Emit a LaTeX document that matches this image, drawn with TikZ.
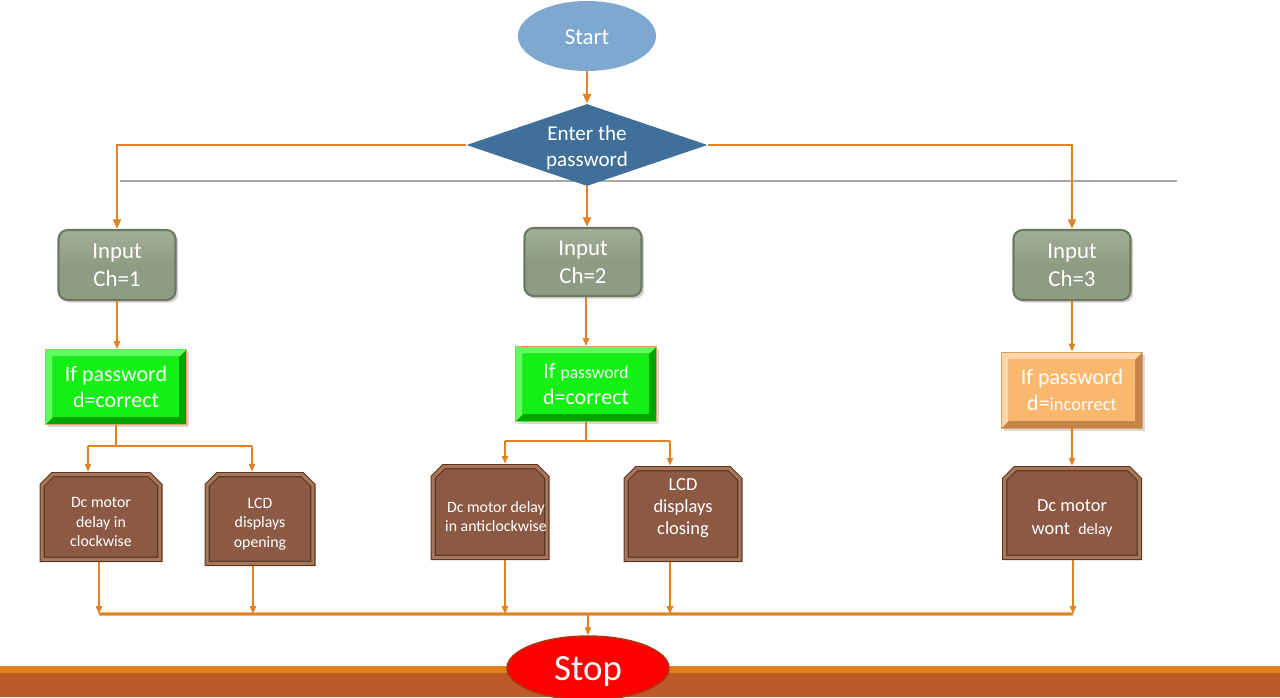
\documentclass[tikz,border=0pt]{standalone}
\usepackage{fontspec}
\setmainfont{Carlito}
\usetikzlibrary{shapes.geometric,arrows.meta,shadows}
\newdimen\upx \upx=0.02cm
\definecolor{orgc}{HTML}{DE8223}
\definecolor{startc}{HTML}{7EA8CF}
\definecolor{diac}{HTML}{40709A}
\definecolor{inpc}{HTML}{8F9C84}
\definecolor{inptop}{HTML}{A2AE97}
\definecolor{inpd}{HTML}{6C785F}
\definecolor{grnface}{HTML}{14F014}
\definecolor{grnlight}{HTML}{5CFF5C}
\definecolor{grndark}{HTML}{00A400}
\definecolor{ornface}{HTML}{F9B86E}
\definecolor{ornlight}{HTML}{FCD6A8}
\definecolor{orndark}{HTML}{C4854A}
\definecolor{edgec}{HTML}{E0A060}
\definecolor{brnface}{HTML}{8C5A44}
\definecolor{brnlight}{HTML}{A9765A}
\definecolor{brndark}{HTML}{5A3625}
\definecolor{stopc}{HTML}{FF0000}
\definecolor{stopd}{HTML}{A83A10}
\definecolor{bandor}{HTML}{E0801A}
\definecolor{bandbr}{HTML}{BC5A2A}
\definecolor{grayl}{HTML}{A6A6A6}
\tikzset{
  conn/.style={draw=orgc, line width=1.6pt, -{Triangle[length=5.5pt,width=4.5pt]}},
  thinarr/.style={draw=orgc, line width=0.85pt, -{Triangle[length=4.5pt,width=3.6pt]}},
  thinline/.style={draw=orgc, line width=0.85pt},
  bevel/.style n args={4}{fill=#3, path picture={
    \fill[#2] (path picture bounding box.north west) -- (path picture bounding box.north east)
      -- ([shift={(-#4,-#4)}]path picture bounding box.north east)
      -- ([shift={(#4,-#4)}]path picture bounding box.north west)
      -- ([shift={(#4,#4)}]path picture bounding box.south west)
      -- (path picture bounding box.south west) -- cycle;
    \fill[#1] ([shift={(#4,-#4)}]path picture bounding box.north west) rectangle ([shift={(-#4,#4)}]path picture bounding box.south east);
  }},
  inputbox/.style={rounded corners=9\upx, top color=inptop, bottom color=inpc, middle color=inpc,
    draw=inpd, line width=1.2pt,
    minimum width=117\upx, minimum height=70\upx, text=white, align=center,
    font=\fontsize{13}{16}\selectfont,
    drop shadow={shadow xshift=1.5pt,shadow yshift=-1.5pt,opacity=.35}},
  ifbox/.style={rectangle, minimum width=141\upx, minimum height=75\upx, text=white,
    align=center, font=\fontsize{12.5}{15}\selectfont, draw=edgec, line width=0.5pt,
    drop shadow={shadow xshift=1.5pt,shadow yshift=-1.5pt,opacity=.3}},
  greenbox/.style={ifbox, bevel={grnface}{grnlight}{grndark}{4pt}},
  orangebox/.style={ifbox, bevel={ornface}{ornlight}{orndark}{4pt}},
  brownbox/.style={rectangle, inner sep=0pt, path picture={
    \path[fill=brnface, draw=brndark, double=brnlight, double distance=1.8pt, line width=0.6pt]
      ([shift={(1.5pt,1.5pt)}]path picture bounding box.south west)
      -- ([shift={(1.5pt,-7.5pt)}]path picture bounding box.north west)
      -- ([shift={(7.5pt,-1.5pt)}]path picture bounding box.north west)
      -- ([shift={(-7.5pt,-1.5pt)}]path picture bounding box.north east)
      -- ([shift={(-1.5pt,-7.5pt)}]path picture bounding box.north east)
      -- ([shift={(-1.5pt,1.5pt)}]path picture bounding box.south east) -- cycle;
  }},
  btext/.style={text=white, align=center, inner sep=0pt},
}
\begin{document}
\begin{tikzpicture}[x=0.02cm,y=-0.02cm]
\useasboundingbox (0,0) rectangle (1280,697);
% gray rule
\draw[grayl, line width=0.6pt] (120,181) -- (1177,181);
% bottom band
\fill[bandor] (0,666) rectangle (1280,673);
\fill[bandbr] (0,673) rectangle (1280,697);

% nodes
\node[ellipse, fill=startc, minimum width=138\upx, minimum height=70\upx,
  label={[btext, yshift=-1.5\upx, font=\fontsize{13}{16}\selectfont]center:Start}] (start) at (587,36) {};
\node[diamond, fill=diac, aspect=2.94, minimum width=241\upx, minimum height=82\upx, inner sep=0pt,
  label={[btext, yshift=-3\upx, font=\fontsize{12}{14.7}\selectfont]center:Enter the\\password}] (dia) at (587,145) {};

\node[inputbox] (in1) at (117,265) {Input\\Ch=1};
\node[inputbox, minimum height=68\upx] (in2) at (583,262) {Input\\Ch=2};
\node[inputbox] (in3) at (1072,265) {Input\\Ch=3};

\node[greenbox] (if1) at (116,387) {If password\\d=correct};
\node[greenbox] (if2) at (586,384) {If {\fontsize{10}{15}\selectfont password}\\d=correct};
\node[orangebox, minimum height=76\upx] (if3) at (1072,390) {If password\\d={\fontsize{10.5}{15}\selectfont incorrect}};

\node[brownbox, minimum width=123\upx, minimum height=90\upx,
  label={[btext, yshift=-5\upx, font=\fontsize{9}{11}\selectfont]center:Dc motor\\delay in\\clockwise}] (b1a) at (101,517) {};
\node[brownbox, minimum width=111\upx, minimum height=94\upx,
  label={[btext, yshift=-5\upx, font=\fontsize{9}{11}\selectfont]center:LCD\\displays\\opening}] (b1b) at (260,519) {};
\node[brownbox, minimum width=119\upx, minimum height=96\upx,
  label={[btext, yshift=-4.5\upx, xshift=6\upx, font=\fontsize{9}{11}\selectfont]center:Dc motor delay\\in anticlockwise}] (b2a) at (490,512) {};
\node[brownbox, minimum width=119\upx, minimum height=96\upx,
  label={[btext, yshift=6\upx, font=\fontsize{10.5}{12.5}\selectfont]center:LCD\\displays\\closing}] (b2b) at (683,514) {};
\node[brownbox, minimum width=140\upx, minimum height=94\upx,
  label={[btext, yshift=-5\upx, font=\fontsize{10.5}{13}\selectfont]center:Dc motor\\wont\ \ {\fontsize{9}{13}\selectfont delay}}] (b3) at (1072,513) {};

% top connectors
\draw[conn] (start) -- (dia);
\draw[conn] (dia.west) -| (in1.north);
\draw[conn] (dia.east) -| (in3.north);
\draw[conn] (dia.south) -- (dia.south |- in2.north);

% input -> if
\draw[thinarr] (in1.south) -- (in1.south |- if1.north);
\draw[thinarr] (in2.south -| if2.north) -- (if2.north);
\draw[thinarr] (in3.south) -- (in3.south |- if3.north);

% branches
\coordinate (j1l) at (88,446);
\coordinate (j1r) at (252,446);
\draw[thinline] (if1.south) -- (if1.south |- j1l);
\draw[thinline] (j1l) -- (j1r);
\draw[thinarr] (j1l) -- (j1l |- b1a.north);
\draw[thinarr] (j1r) -- (j1r |- b1b.north);

\coordinate (j2l) at (505,441);
\coordinate (j2r) at (670,441);
\draw[thinline] (if2.south) -- (if2.south |- j2l);
\draw[thinline] (j2l) -- (j2r);
\draw[thinarr] (j2l) -- (j2l |- b2a.north);
\draw[thinarr] (j2r) -- (j2r |- b2b.north);

\draw[thinarr] (if3.south) -- (if3.south |- b3.north);

% merge
\coordinate (m1) at (99,614);
\coordinate (m2) at (253,614);
\coordinate (m3) at (505,614);
\coordinate (m4) at (670,614);
\coordinate (m5) at (1073,614);
\coordinate (mc) at (588,615);
\draw[draw=orgc!60, line width=1.8pt] (m1) -- (m5);
\draw[thinline] (m1) -- (m5);
\draw[thinarr] (b1a.south -| m1) -- (m1);
\draw[thinarr] (b1b.south -| m2) -- (m2);
\draw[thinarr] (b2a.south -| m3) -- (m3);
\draw[thinarr] (b2b.south -| m4) -- (m4);
\draw[thinarr] (b3.south -| m5) -- (m5);

\node[ellipse, fill=stopc, draw=stopd, line width=0.8pt, minimum width=162\upx, minimum height=64\upx,
  label={[btext, yshift=-3\upx, font=\fontsize{21}{24}\selectfont]center:Stop}] (stop) at (588,668) {};
\draw[thinarr] (mc) -- (stop.north);
\end{tikzpicture}
\end{document}
